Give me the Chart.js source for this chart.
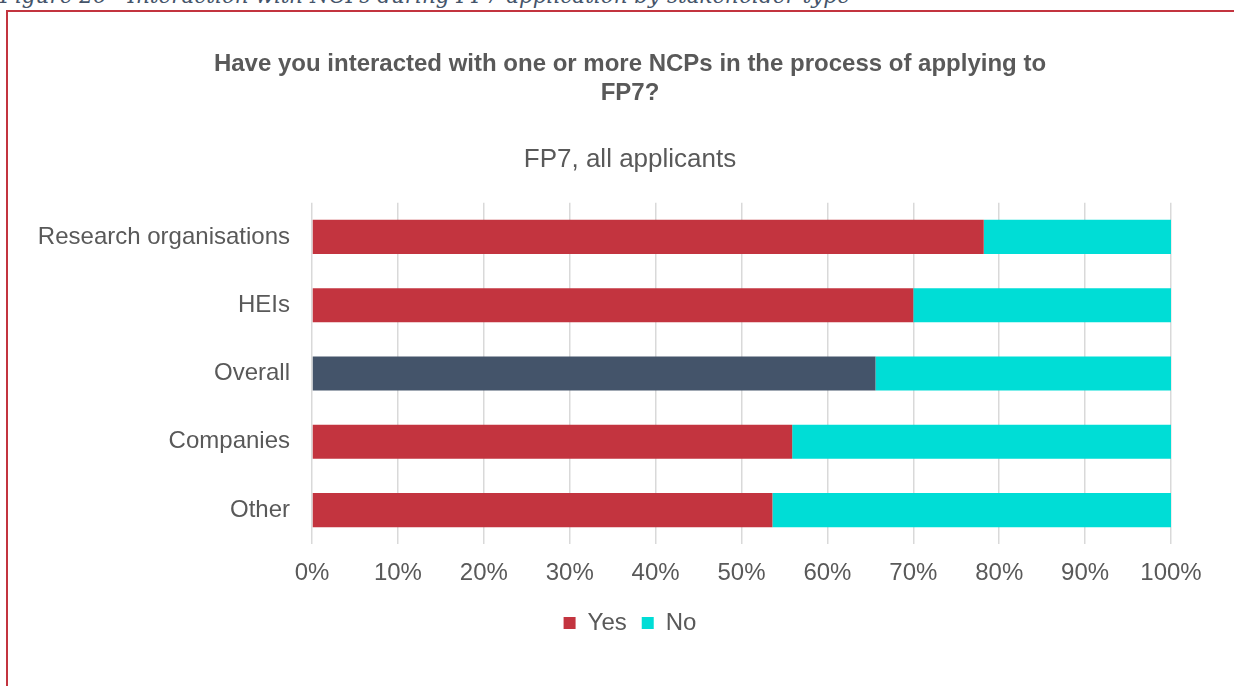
<!DOCTYPE html>
<html>
<head>
<meta charset="utf-8">
<script src="https://cdn.jsdelivr.net/npm/chart.js@4"></script>
<style>
    html, body { margin: 0; padding: 0; background: #fff; }
    body { width: 1234px; height: 686px; position: relative; overflow: hidden; }
    #legenda-fig {
        position: absolute; left: 0; top: -15px; white-space: nowrap;
        font: italic 21.5px "DejaVu Serif", serif; color: #44546A; line-height: 21px;
    }
    #moldura {
        position: absolute; left: 6px; top: 10px; width: 1240px; height: 700px;
        border-top: 2px solid #C3343F; border-left: 2px solid #C3343F; pointer-events: none;
    }
    #grafico { position: absolute; left: 0; top: 0; }
</style>
</head>
<body>
<div id="legenda-fig">Figure 26 - Interaction with NCPs during FP7 application by stakeholder type</div>
<canvas id="grafico" width="1234" height="686"></canvas>
<div id="moldura"></div>
<script>
const categorias = ['Research organisations', 'HEIs', 'Overall', 'Companies', 'Other'];
const sim = [78.2, 70.0, 65.6, 55.9, 53.6];
const nao = [21.8, 30.0, 34.4, 44.1, 46.4];
const ticksX = ['0%', '10%', '20%', '30%', '40%', '50%', '60%', '70%', '80%', '90%', '100%'];

const VERMELHO = '#C3343F';
const TURQUESA = '#00DDD6';
const ARDOSIA = '#44546A';
const TEXTO = '#595959';

Chart.defaults.font.family = '"Liberation Sans", Arial, sans-serif';
Chart.defaults.color = TEXTO;

new Chart(document.getElementById('grafico'), {
    type: 'bar',
    data: {
        labels: categorias,
        datasets: [
            {
                label: 'Yes',
                data: sim,
                // "Overall" fica em cinza escuro
                backgroundColor: (ctx) => ctx.dataIndex === 2 ? ARDOSIA : VERMELHO,
                borderWidth: 0
            },
            { label: 'No', data: nao, backgroundColor: TURQUESA, borderWidth: 0 }
        ]
    },
    options: {
        indexAxis: 'y',
        responsive: false,
        animation: false,
        categoryPercentage: 1,
        barPercentage: 0.5,
        layout: { padding: { left: 30, right: 4, top: 0, bottom: 41 } },
        plugins: {
            tooltip: { enabled: false },
            title: {
                display: true,
                text: ['Have you interacted with one or more NCPs in the process of applying to', 'FP7?'],
                font: { size: 24, weight: 'bold', lineHeight: 1.2 },
                color: TEXTO,
                padding: { top: 50, bottom: 20 }
            },
            subtitle: {
                display: true,
                text: 'FP7, all applicants',
                font: { size: 26, lineHeight: 1.2 },
                color: TEXTO,
                padding: { top: 17, bottom: 27 }
            },
            legend: {
                position: 'bottom',
                labels: { boxWidth: 12, boxHeight: 12, padding: 15, font: { size: 24 }, color: TEXTO }
            }
        },
        scales: {
            x: {
                stacked: true,
                min: 0,
                max: 100,
                ticks: {
                    stepSize: 10,
                    padding: 15,
                    font: { size: 24 },
                    color: TEXTO,
                    callback: (v, i) => ticksX[i]
                },
                grid: { color: '#D9D9D9', lineWidth: 1.5, drawTicks: false },
                border: { display: false },
                // empurra a borda direita da area para 100% = x 1171
                afterFit: (s) => { s.paddingRight = 63; s.height -= 7; }
            },
            y: {
                stacked: true,
                ticks: { padding: 22, font: { size: 24 }, color: TEXTO },
                grid: { display: false, drawTicks: false },
                border: { display: false },
                afterFit: (s) => { s.width = 282; }
            }
        }
    }
});
</script>
</body>
</html>
